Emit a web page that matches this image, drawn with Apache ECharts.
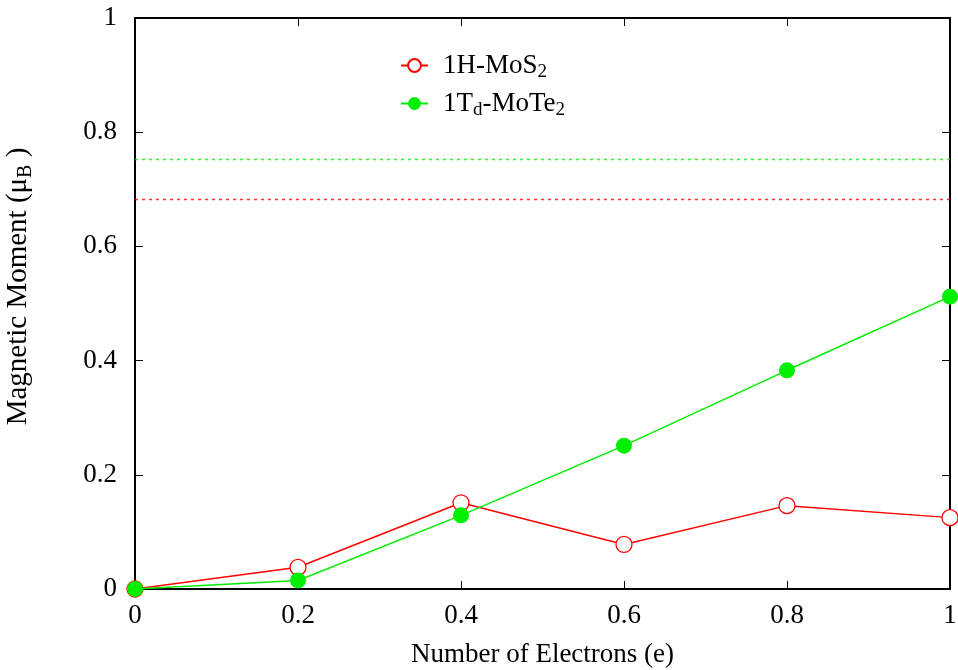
<!DOCTYPE html>
<html>
<head>
<meta charset="utf-8">
<script src="https://cdn.jsdelivr.net/npm/echarts@6/dist/echarts.min.js"></script>
<style>
  html,body{margin:0;padding:0;background:#fff;}
  #chart{width:958px;height:670px;}
</style>
</head>
<body>
<div id="chart"></div>
<script>
/* 数据 */
const electrons = [0, 0.2, 0.4, 0.6, 0.8, 1];
const mos2 = [0, 0.038, 0.151, 0.078, 0.146, 0.125];
const mote2 = [0, 0.015, 0.129, 0.251, 0.383, 0.512];
const mos2Limit = 0.682;
const mote2Limit = 0.752;

const RED = "#ff0000", GREEN = "#00ee00";
const font = "Liberation Serif";
const FS = 27;

const pairs = (xs, ys) => xs.map((x, i) => [x, ys[i]]);

const chart = echarts.init(document.getElementById("chart"));

const mirrorAxis = {
  min: 0, max: 1, interval: 0.2,
  axisLine: {show: true, onZero: false, lineStyle: {color: "#000", width: 2}},
  axisTick: {show: true, inside: true, length: 8, lineStyle: {color: "#000", width: 1}},
  axisLabel: {show: false},
  splitLine: {show: false}
};

chart.setOption({
  animation: false,
  backgroundColor: "#fff",
  grid: {left: 135, top: 18, right: 8, bottom: 81, outerBoundsMode: "none", containLabel: false},
  legend: {
    orient: "vertical",
    left: 395, top: 47,
    itemWidth: 27, itemHeight: 16, itemGap: 8,
    data: ["1H-MoS2", "1Td-MoTe2"],
    formatter: n => n === "1H-MoS2" ? "1H-MoS{sub|2}" : "1T{sub|d}-MoTe{sub|2}",
    textStyle: {
      fontFamily: font, fontSize: FS, color: "#000", padding: [0, 0, 0, 10],
      rich: {sub: {fontFamily: font, fontSize: 19, padding: [14, 0, 0, 0]}}
    }
  },
  xAxis: [{
    type: "value", min: 0, max: 1, interval: 0.2,
    name: "Number of Electrons (e)", nameLocation: "middle", nameGap: 52,
    nameTextStyle: {fontFamily: font, fontSize: FS, color: "#000"},
    axisLine: {show: true, onZero: false, lineStyle: {color: "#000", width: 2}},
    axisTick: {show: true, inside: true, length: 8, lineStyle: {color: "#000", width: 1}},
    axisLabel: {fontFamily: font, fontSize: FS, color: "#000", margin: 13},
    splitLine: {show: false}
  }, Object.assign({position: "top", type: "value"}, mirrorAxis)],
  yAxis: [{
    type: "value", min: 0, max: 1, interval: 0.2,
    name: "Magnetic Moment (\u03bc{sub|B} )", nameLocation: "middle", nameGap: 99,
    nameTextStyle: {fontFamily: font, fontSize: 29, color: "#000", padding: [0, 0, 0, 34],
      rich: {sub: {fontFamily: font, fontSize: 20, padding: [15, 0, 0, 0]}}},
    axisLine: {show: true, onZero: false, lineStyle: {color: "#000", width: 2}},
    axisTick: {show: true, inside: true, length: 8, lineStyle: {color: "#000", width: 1}},
    axisLabel: {fontFamily: font, fontSize: FS, color: "#000", margin: 18},
    splitLine: {show: false}
  }, Object.assign({position: "right", type: "value"}, mirrorAxis)],
  series: [
    {
      name: "mos2-limit", type: "line", data: [[0, mos2Limit], [1, mos2Limit]],
      symbol: "none", silent: true,
      lineStyle: {color: RED, width: 1.5, type: [3, 4], opacity: 0.8}
    },
    {
      name: "mote2-limit", type: "line", data: [[0, mote2Limit], [1, mote2Limit]],
      symbol: "none", silent: true,
      lineStyle: {color: GREEN, width: 1.5, type: [3, 4], opacity: 0.8}
    },
    {
      name: "1H-MoS2", type: "line", data: pairs(electrons, mos2),
      symbol: "circle", symbolSize: 16, showAllSymbol: true,
      lineStyle: {color: RED, width: 1.5},
      itemStyle: {color: "#fff", borderColor: RED, borderWidth: 1.3},
      z: 3
    },
    {
      name: "1Td-MoTe2", type: "line", data: pairs(electrons, mote2),
      symbol: "circle", symbolSize: 16, showAllSymbol: true,
      lineStyle: {color: GREEN, width: 1.5},
      itemStyle: {color: GREEN, borderWidth: 0},
      z: 4
    }
  ]
});
</script>
</body>
</html>
